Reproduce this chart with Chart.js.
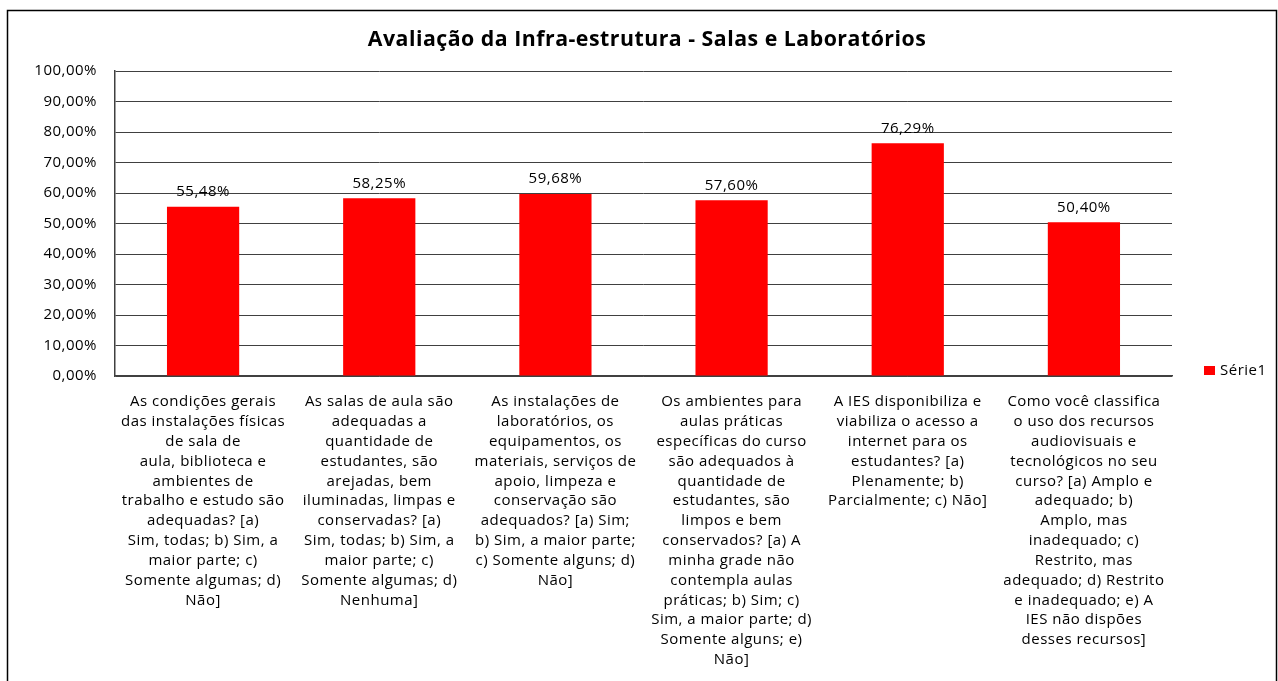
<!DOCTYPE html>
<html>
<head>
<meta charset="utf-8">
<script src="https://cdn.jsdelivr.net/npm/chart.js@4"></script>
<style>
  html, body { margin: 0; padding: 0; background: #fff; }
  #wrap { width: 1278px; height: 681px; position: relative; }
</style>
</head>
<body>
<div id="wrap"><canvas id="infraChart" width="1278" height="681"></canvas></div>
<script>
const chartTitle = "Avaliação da Infra-estrutura - Salas e Laboratórios";
const seriesName = "Série1";

const categories = [
    ["As condições gerais", "das instalações físicas", "de sala de", "aula, biblioteca e", "ambientes de", "trabalho e estudo são", "adequadas? [a)", "Sim, todas; b) Sim, a", "maior parte; c)", "Somente algumas; d)", "Não]"],
    ["As salas de aula são", "adequadas a", "quantidade de", "estudantes, são", "arejadas, bem", "iluminadas, limpas e", "conservadas? [a)", "Sim, todas; b) Sim, a", "maior parte; c)", "Somente algumas; d)", "Nenhuma]"],
    ["As instalações de", "laboratórios, os", "equipamentos, os", "materiais, serviços de", "apoio, limpeza e", "conservação são", "adequados? [a) Sim;", "b) Sim, a maior parte;", "c) Somente alguns; d)", "Não]"],
    ["Os ambientes para", "aulas práticas", "específicas do curso", "são adequados à", "quantidade de", "estudantes, são", "limpos e bem", "conservados? [a) A", "minha grade não", "contempla aulas", "práticas; b) Sim; c)", "Sim, a maior parte; d)", "Somente alguns; e)", "Não]"],
    ["A IES disponibiliza e", "viabiliza o acesso a", "internet para os", "estudantes? [a)", "Plenamente; b)", "Parcialmente; c) Não]"],
    ["Como você classifica", "o uso dos recursos", "audiovisuais e", "tecnológicos no seu", "curso? [a) Amplo e", "adequado; b)", "Amplo, mas", "inadequado; c)", "Restrito, mas", "adequado; d) Restrito", "e inadequado; e) A", "IES não dispões", "desses recursos]"]
];

const serie1 = [55.48, 58.25, 59.68, 57.60, 76.29, 50.40];

const yTicks = [0, 10, 20, 30, 40, 50, 60, 70, 80, 90, 100];

const FONT = "'Open Sans', Lato, sans-serif";
const BAR_COLOR = "#ff0000";

function fmtPct(v) {
    return v.toFixed(2).replace(".", ",") + "%";
}

// border, title, legend and value labels
const decorPlugin = {
    id: "decor",
    beforeDraw(chart) {
        const ctx = chart.ctx;
        ctx.save();
        ctx.fillStyle = "#fff";
        ctx.fillRect(0, 0, chart.width, chart.height);
        ctx.strokeStyle = "#000";
        ctx.lineWidth = 1.5;
        ctx.strokeRect(7.5, 10.5, 1269, 700);
        ctx.restore();
        // text in the original is loosely spaced
        ctx.letterSpacing = "0.5px";
    },
    afterDatasetsDraw(chart) {
        const ctx = chart.ctx;
        const meta = chart.getDatasetMeta(0);
        ctx.save();
        ctx.fillStyle = "#000";
        ctx.font = "15px " + FONT;
        ctx.textAlign = "center";
        ctx.textBaseline = "middle";
        meta.data.forEach((bar, i) => {
            ctx.fillText(fmtPct(serie1[i]), bar.x, bar.y - 15);
        });

        // title
        ctx.font = "bold 21.3px " + FONT;
        ctx.fillText(chartTitle, 647, 40);

        // legend
        ctx.fillStyle = BAR_COLOR;
        ctx.fillRect(1204, 366, 11, 9);
        ctx.fillStyle = "#000";
        ctx.font = "15px " + FONT;
        ctx.textAlign = "left";
        ctx.fillText(seriesName, 1220, 371);
        ctx.restore();
    }
};

new Chart(document.getElementById("infraChart"), {
    type: "bar",
    data: {
        labels: categories,
        datasets: [
            {
                label: seriesName,
                data: serie1,
                backgroundColor: BAR_COLOR,
                borderWidth: 0,
                categoryPercentage: 1.0,
                barPercentage: 0.41,
            },
        ],
    },
    plugins: [decorPlugin],
    options: {
        responsive: false,
        animation: false,
        layout: {
            padding: { left: 0, right: 106, top: 71, bottom: 0 },
        },
        plugins: {
            legend: { display: false },
            title: { display: false },
            tooltip: { enabled: false },
        },
        scales: {
            x: {
                grid: { display: false, drawTicks: false },
                border: { display: true, color: "#404040", width: 1.5 },
                ticks: {
                    autoSkip: false,
                    maxRotation: 0,
                    minRotation: 0,
                    padding: 16,
                    color: "#000",
                    font: { family: FONT, size: 15, lineHeight: 1.323 },
                },
                afterFit(scale) {
                    scale.height = 681 - 376;
                },
            },
            y: {
                min: 0,
                max: 100,
                afterBuildTicks(scale) {
                    scale.ticks = yTicks.map(v => ({ value: v }));
                },
                grid: { color: "#404040", lineWidth: 1, drawTicks: false },
                border: { display: true, color: "#404040", width: 1.5 },
                ticks: {
                    padding: 18,
                    color: "#000",
                    font: { family: FONT, size: 15 },
                    callback: function (value) {
                        return fmtPct(value);
                    },
                },
                afterFit(scale) {
                    scale.width = 115;
                },
            },
        },
    },
});
</script>
</body>
</html>
